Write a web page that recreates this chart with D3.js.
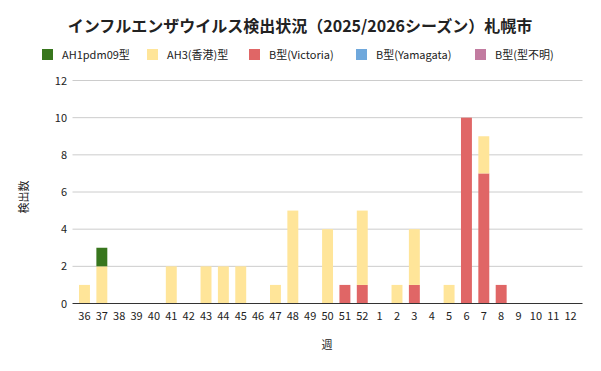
<!DOCTYPE html>
<html>
<head>
<meta charset="utf-8" />
<title>インフルエンザウイルス検出状況</title>
<script src="https://d3js.org/d3.v7.min.js"></script>
<style>
    body { margin: 0; background: #fff; }
    text { font-family: "Noto Sans CJK JP", "Noto Sans", sans-serif; fill: #222; }
</style>
</head>
<body>
<svg width="601" height="371"></svg>
<script>
    // weeks of the 2025/2026 season
    var weeks = ["36","37","38","39","40","41","42","43","44","45","46","47","48","49","50","51","52",
                 "1","2","3","4","5","6","7","8","9","10","11","12"];
    var seriesNames = ["AH1pdm09型", "AH3(香港)型", "B型(Victoria)", "B型(Yamagata)", "B型(型不明)"];
    var seriesColors = ["#38761d", "#ffe599", "#e06666", "#6fa8dc", "#c27ba0"];

    var ah1 =      [0,1,0,0,0,0,0,0,0,0,0,0,0,0,0,0,0, 0,0,0,0,0,0,0,0,0,0,0,0];
    var ah3 =      [1,2,0,0,0,2,0,2,2,2,0,1,5,0,4,0,4, 0,1,3,0,1,0,2,0,0,0,0,0];
    var victoria = [0,0,0,0,0,0,0,0,0,0,0,0,0,0,0,1,1, 0,0,1,0,0,10,7,1,0,0,0,0];
    var yamagata = [0,0,0,0,0,0,0,0,0,0,0,0,0,0,0,0,0, 0,0,0,0,0,0,0,0,0,0,0,0];
    var unknown =  [0,0,0,0,0,0,0,0,0,0,0,0,0,0,0,0,0, 0,0,0,0,0,0,0,0,0,0,0,0];
    var yTicks = [0, 2, 4, 6, 8, 10, 12];

    var seriesValues = [ah1, ah3, victoria, yamagata, unknown];

    // rows for the stack
    var rows = weeks.map(function(w, i) {
        var r = { week: w };
        seriesNames.forEach(function(s, k) { r[s] = seriesValues[k][i]; });
        return r;
    });

    var svg = d3.select("svg");

    var x = d3.scaleBand().domain(weeks).range([75.8, 579.3])
        .paddingInner(0.37).paddingOuter(0.185);
    var y = d3.scaleLinear().domain([0, 12]).range([303.5, 80.5]);

    // gridlines
    svg.append("g").selectAll("line")
        .data(yTicks.filter(function(d) { return d > 0; }))
        .enter().append("line")
        .attr("x1", 72.5).attr("x2", 582.5)
        .attr("y1", function(d) { return y(d); })
        .attr("y2", function(d) { return y(d); })
        .attr("stroke", "#cccccc").attr("stroke-width", 1);

    // stacked bars: bottom is Victoria, then AH3, then AH1pdm09 (reverse of legend)
    var stack = d3.stack().keys(seriesNames.slice().reverse());
    var layers = stack(rows);

    svg.append("g").selectAll("g")
        .data(layers)
        .enter().append("g")
        .attr("fill", function(d) { return seriesColors[seriesNames.indexOf(d.key)]; })
        .selectAll("rect")
        .data(function(d) { return d; })
        .enter().append("rect")
        .filter(function(d) { return d[1] > d[0]; })
        .attr("x", function(d) { return x(d.data.week); })
        .attr("width", x.bandwidth())
        .attr("y", function(d) { return y(d[1]); })
        .attr("height", function(d) { return y(d[0]) - y(d[1]); });

    // baseline
    svg.append("line")
        .attr("x1", 72.5).attr("x2", 582.5)
        .attr("y1", 303.5).attr("y2", 303.5)
        .attr("stroke", "#333").attr("stroke-width", 1);

    // y axis labels
    svg.append("g").selectAll("text")
        .data(yTicks)
        .enter().append("text")
        .attr("x", 67)
        .attr("y", function(d) { return y(d) + 4; })
        .attr("text-anchor", "end")
        .attr("font-size", 11)
        .text(function(d) { return d; });

    // x axis labels
    svg.append("g").selectAll("text")
        .data(weeks)
        .enter().append("text")
        .attr("x", function(d) { return x(d) + x.bandwidth() / 2; })
        .attr("y", 320)
        .attr("text-anchor", "middle")
        .attr("font-size", 11)
        .text(function(d) { return d; });

    // title
    svg.append("text")
        .attr("x", 300).attr("y", 32)
        .attr("text-anchor", "middle")
        .attr("font-size", 16)
        .attr("font-weight", "bold")
        .text("インフルエンザウイルス検出状況（2025/2026シーズン）札幌市");

    // legend
    var legendX = [42, 147, 249, 356, 475];
    var lg = svg.append("g").selectAll("g")
        .data(seriesNames)
        .enter().append("g")
        .attr("transform", function(d, i) { return "translate(" + legendX[i] + ",49)"; });
    lg.append("rect")
        .attr("width", 11).attr("height", 11)
        .attr("fill", function(d, i) { return seriesColors[i]; });
    lg.append("text")
        .attr("x", 20).attr("y", 10)
        .attr("font-size", 11)
        .text(function(d) { return d; });

    // axis titles
    svg.append("text")
        .attr("transform", "translate(28,197) rotate(-90)")
        .attr("text-anchor", "middle")
        .attr("font-size", 11)
        .text("検出数");
    svg.append("text")
        .attr("x", 327).attr("y", 349)
        .attr("text-anchor", "middle")
        .attr("font-size", 11)
        .text("週");
</script>
</body>
</html>
